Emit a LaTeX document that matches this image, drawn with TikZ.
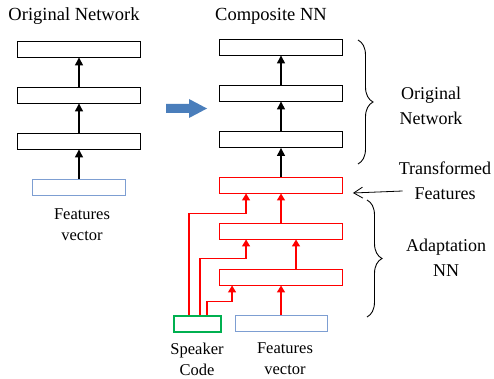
\documentclass[tikz,border=0pt]{standalone}
\usepackage{fontspec}
\setmainfont{Liberation Serif}
\usetikzlibrary{arrows.meta,decorations.pathreplacing}
\definecolor{fvblue}{RGB}{125,158,210}
\definecolor{spkgreen}{RGB}{0,176,80}
\definecolor{morphblue}{RGB}{74,126,187}
\tikzset{
	layer/.style={draw,line width=0.9pt,minimum width=123pt,minimum height=16pt,inner sep=0pt},
	adlayer/.style={layer,draw=red},
	invec/.style={draw=fvblue,line width=0.9pt,minimum width=93pt,minimum height=16pt,inner sep=0pt},
	spkbox/.style={draw=spkgreen,line width=2pt,minimum width=47pt,minimum height=16pt,inner sep=0pt},
	up/.style={line width=1.3pt,-{Triangle[length=8pt,width=8pt]}},
	redup/.style={line width=1.3pt,red,-{Triangle[length=7pt,width=8pt]}},
	brc/.style={decorate,decoration={brace,amplitude=15pt},line width=0.9pt},
	ttl/.style={font=\fontsize{18.5}{22}\selectfont,inner sep=0pt},
	lbl/.style={font=\fontsize{16.5}{21}\selectfont,align=center,inner sep=0pt},
	rlbl/.style={font=\fontsize{18}{25}\selectfont,align=center,inner sep=1pt}
}
\begin{document}
\begin{tikzpicture}[x=1pt,y=-1pt]
		%\draw[step=50,very thin,color=gray] (0,0) grid (494,379);
		\useasboundingbox (0,0) rectangle (494,379);
		\node[ttl] (ttlorig) at (74,16) {Original Network};
		\node[ttl] (ttlcomp) at (271,16) {Composite NN};
		% original network
		\node[layer] (o1) at (79,49) {};
		\node[layer] (o2) at (79,95) {};
		\node[layer] (o3) at (79,141) {};
		\node[invec] (fv) at (79,187) {};
		\node[lbl] (fvlbl) at (82,225) {Features\\vector};
		\draw[up] (fv) -- (o3);
		\draw[up] (o3) -- (o2);
		\draw[up] (o2) -- (o1);
		\fill[morphblue] (166,104) -- (189,104) -- (189,99) -- (207,108.5) -- (189,118) -- (189,113) -- (166,113) -- cycle;
		% composite network
		\node[layer] (on1) at (281,47) {};
		\node[layer] (on2) at (281,93) {};
		\node[layer] (on3) at (281,139.5) {};
		\node[adlayer] (ad3) at (281,185) {};
		\node[adlayer] (ad2) at (281,231) {};
		\node[adlayer] (ad1) at (281,277) {};
		\node[spkbox] (spk) at (197,323.5) {};
		\node[invec,minimum width=92pt] (fv2) at (281,323) {};
		\node[lbl] (spklbl) at (197,359) {Speaker\\Code};
		\node[lbl] (fv2lbl) at (285,359) {Features\\vector};
		\draw[up] (ad3) -- (on3);
		\draw[up] (on3) -- (on2);
		\draw[up] (on2) -- (on1);
		\draw[redup] (fv2) -- (ad1);
		\draw[redup] ([xshift=15pt]ad1.north) -- ([xshift=15pt]ad2.south);
		\draw[redup] (ad2) -- (ad3);
		\draw[redup] ([xshift=-8pt]spk.north) |- ([xshift=27pt,yshift=-20pt]ad3.south west) -- ([xshift=27pt]ad3.south west);
		\draw[redup] ([xshift=3pt]spk.north) |- ([xshift=27pt,yshift=-19pt]ad2.south west) -- ([xshift=27pt]ad2.south west);
		\draw[redup] ([xshift=10pt]spk.north) |- ([xshift=13pt,yshift=-16pt]ad1.south west) -- ([xshift=13pt]ad1.south west);
		% braces and labels
		\draw[brc] (358,40) -- (358,164);
		\draw[brc] (367,200) -- (367,317);
		\node[rlbl] (onlbl) at (431,106) {Original\\Network};
		\node[rlbl] (tflbl) at (445,181) {Transformed\\Features};
		\node[rlbl] (adlbl) at (446,258) {Adaptation\\NN};
		\draw[line width=0.8pt,-{Straight Barb[length=9pt,width=11pt]}] ([xshift=5pt,yshift=-10pt]tflbl.west) -- ([xshift=10pt,yshift=-8pt]ad3.east);
\end{tikzpicture}
\end{document}
